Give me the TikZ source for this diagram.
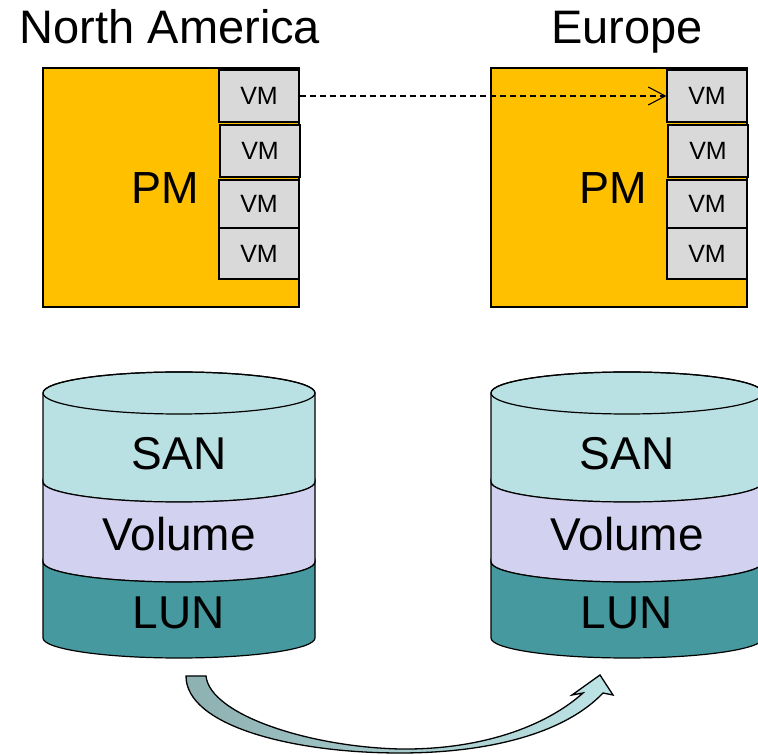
\documentclass[tikz,border=0pt]{standalone}
\usepackage{fontspec}
\setmainfont{Liberation Sans}
\usetikzlibrary{arrows.meta}
\definecolor{pmcol}{HTML}{FFC000}
\definecolor{vmcol}{HTML}{D9D9D9}
\definecolor{sancol}{HTML}{B9E0E2}
\definecolor{volcol}{HTML}{D2D2F0}
\definecolor{luncol}{HTML}{46999E}
\definecolor{arrL}{HTML}{8DB0B1}
\definecolor{arrR}{HTML}{BDE4E6}
\tikzset{
  pmbox/.style={draw=black, fill=pmcol, line width=1.2pt},
  vmbox/.style={draw=black, fill=vmcol, line width=1.2pt, inner sep=0pt, minimum width=80pt, font=\fontsize{25}{28}\selectfont},
  heading/.style={inner sep=0pt, anchor=base, font=\fontsize{47}{50}\selectfont},
  pmtext/.style={inner sep=0pt, font=\fontsize{45}{48}\selectfont},
  layertext/.style={inner sep=0pt, font=\fontsize{46}{48}\selectfont},
  layer/.style={draw=black, line width=1.2pt},
}
\begin{document}
\begin{tikzpicture}[x=1pt,y=1pt]
\useasboundingbox (0,0) rectangle (758,755);
\clip (0,0) rectangle (758,755);
\fill[white] (0,0) rectangle (758,755);

% headings
\node[heading] (hNA) at (170,711) {North America};
\node[heading] (hEU) at (627,711) {Europe};

% PM boxes
\foreach \px/\nm in {43/L, 491/R}{
  \draw[pmbox] (\px,687) rectangle (\px+256,448);
  \node[pmtext] (pm\nm) at (\px+122,567) {PM};
  \node[vmbox, minimum height=52pt] (vm\nm1) at (\px+216,659) {VM};
  \node[vmbox, minimum height=52pt] (vm\nm2) at (\px+217,604) {VM};
  \node[vmbox, minimum height=48pt] (vm\nm3) at (\px+216,551) {VM};
  \node[vmbox, minimum height=51pt] (vm\nm4) at (\px+216,501.5) {VM};
}

% migration arrow (dashed)
\draw[line width=1.1pt, dash pattern=on 6pt off 4pt, -{Straight Barb[length=17pt,width=18pt,line width=1.1pt]}] (vmL1.east) -- (vmR1.west);

% storage cylinders
\foreach \cx/\nm in {179/L, 627/R}{
  \filldraw[layer, fill=sancol] (\cx-136,362) -- (\cx-136,273)
     arc[start angle=180, end angle=360, x radius=136, y radius=20]
     -- (\cx+136,362)
     arc[start angle=0, end angle=180, x radius=136, y radius=21] -- cycle;
  \draw[layer] (\cx,362) ellipse[x radius=136, y radius=21];
  \filldraw[layer, fill=volcol] (\cx-136,273)
     arc[start angle=180, end angle=360, x radius=136, y radius=20]
     -- (\cx+136,193)
     arc[start angle=0, end angle=-180, x radius=136, y radius=20] -- cycle;
  \filldraw[layer, fill=luncol] (\cx-136,193)
     arc[start angle=180, end angle=360, x radius=136, y radius=20]
     -- (\cx+136,117)
     arc[start angle=0, end angle=-180, x radius=136, y radius=20] -- cycle;
  \node[layertext] (san\nm) at (\cx,301) {SAN};
  \node[layertext] (vol\nm) at (\cx,221) {Volume};
  \node[layertext] (lun\nm) at (\cx,142) {LUN};
}

% curved replication arrow
\draw[line width=1.3pt, left color=arrL, right color=arrR, line join=miter]
  (186,79) -- (206,79)
  .. controls (210,40) and (310,8) .. (400,6)
  .. controls (480,5) and (545,28) .. (583,62)
  -- (572,60) -- (600,80) -- (613,60) -- (603,62)
  .. controls (565,22) and (490,2) .. (400,2)
  .. controls (290,2) and (186,30) .. (186,79) -- cycle;
\end{tikzpicture}
\end{document}
